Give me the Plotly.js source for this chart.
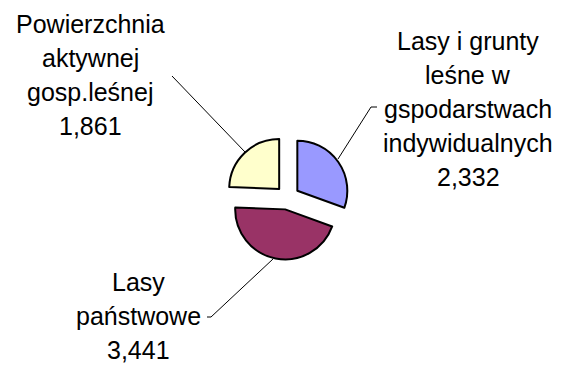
<!DOCTYPE html>
<html>
<head>
<meta charset="utf-8">
<script src="https://cdn.plot.ly/plotly-3.0.1.min.js"></script>
<style>html,body{margin:0;padding:0;background:#fff;}#chart{width:561px;height:365px;}</style>
</head>
<body>
<div id="chart"></div>
<script>
// Data
var categories = [
  'Lasy i grunty leśne w gspodarstwach indywidualnych',
  'Lasy państwowe',
  'Powierzchnia aktywnej gosp.leśnej'
];
var categoryLines = [
  ['Lasy i grunty', 'leśne w', 'gspodarstwach', 'indywidualnych'],
  ['Lasy', 'państwowe'],
  ['Powierzchnia', 'aktywnej', 'gosp.leśnej']
];
var values = [2.332, 3.441, 1.861];
var valueLabels = ['2,332', '3,441', '1,861'];
var colors = ['#9999FF', '#993366', '#FFFFCC'];

var W = 561, H = 365;
function px(x) { return x / W; }
function py(y) { return 1 - y / H; }

// label placement (pixel centre x, first-line baseline y)
var labelPos = [
  {x: 468, y0: 50},
  {x: 138, y0: 291},
  {x: 90, y0: 33}
];
var lineStep = 34;
var fontSize = 25;

var annotations = [];
for (var i = 0; i < categories.length; i++) {
  var lines = categoryLines[i].concat([valueLabels[i]]);
  for (var j = 0; j < lines.length; j++) {
    var base = labelPos[i].y0 + j * lineStep;
    annotations.push({
      xref: 'paper', yref: 'paper',
      x: px(labelPos[i].x), y: py(base - 0.3465 * fontSize),
      xanchor: 'center', yanchor: 'middle',
      text: lines[j], showarrow: false,
      font: {family: 'Liberation Sans, Arial, sans-serif', size: fontSize, color: '#000'}
    });
  }
}

// leader lines (pixel)
var leaders = [
  [[377, 107], [371, 107], [338, 159]],
  [[207, 317], [211, 317], [273, 259]],
  [[172, 76], [245, 152]]
];
var shapes = [];
leaders.forEach(function (pts) {
  for (var k = 0; k < pts.length - 1; k++) {
    shapes.push({
      type: 'line', xref: 'paper', yref: 'paper',
      x0: px(pts[k][0]), y0: py(pts[k][1]),
      x1: px(pts[k + 1][0]), y1: py(pts[k + 1][1]),
      line: {color: '#000', width: 1}
    });
  }
});

var cx = 287.5, cy = 197.6, box = 124;
var trace = {
  type: 'pie',
  labels: categories,
  values: values,
  sort: false,
  direction: 'clockwise',
  rotation: 0,
  pull: [0.24, 0.24, 0.24],
  textinfo: 'none',
  hoverinfo: 'label+value',
  marker: {colors: colors, line: {color: '#000', width: 2}},
  domain: {
    x: [px(cx - box / 2), px(cx + box / 2)],
    y: [py(cy + box / 2), py(cy - box / 2)]
  },
  showlegend: false
};

Plotly.newPlot('chart', [trace], {
  width: W, height: H,
  margin: {l: 0, r: 0, t: 0, b: 0},
  paper_bgcolor: '#fff',
  showlegend: false,
  annotations: annotations,
  shapes: shapes
}, {displayModeBar: false, staticPlot: true});
</script>
</body>
</html>
